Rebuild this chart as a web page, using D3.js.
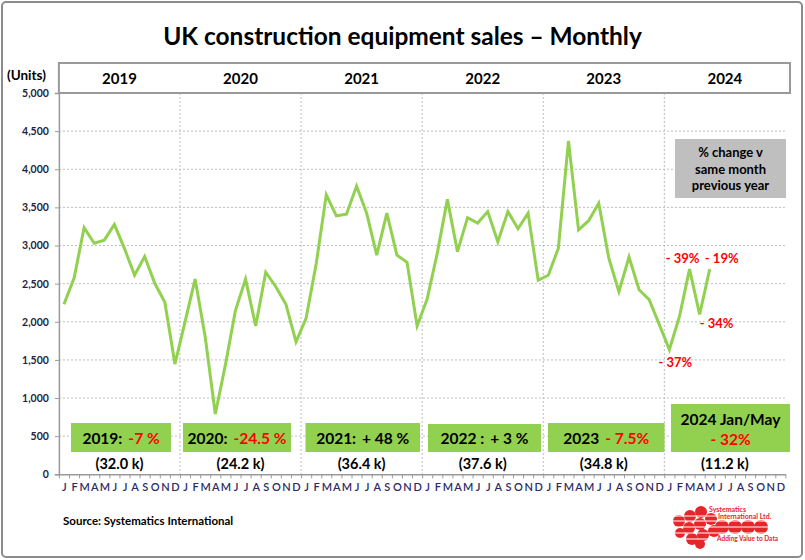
<!DOCTYPE html>
<html><head><meta charset="utf-8">
<script src="https://cdn.jsdelivr.net/npm/d3@7"></script>
<style>
html,body{margin:0;padding:0;background:#fff;}
svg{display:block;font-family:Lato,"Open Sans",sans-serif;}
</style></head>
<body>
<svg id="chart" width="805" height="560"></svg>
<script>
// ---------------- DATA ----------------
const years = ["2019","2020","2021","2022","2023","2024"];
const monthLetters = ["J","F","M","A","M","J","J","A","S","O","N","D"];
const sales2019 = [2230,2570,3235,3030,3070,3275,2960,2610,2855,2505,2255,1445];
const sales2020 = [2000,2560,1800,790,1435,2150,2560,1945,2650,2460,2230,1735];
const sales2021 = [2050,2760,3665,3390,3410,3780,3425,2875,3425,2875,2780,1945];
const sales2022 = [2300,2900,3605,2920,3365,3295,3445,3050,3445,3220,3425,2545];
const sales2023 = [2610,2965,4370,3205,3325,3555,2835,2395,2850,2420,2290,1965];
const sales2024 = [1635,2070,2690,2095,2690];
const yTicks = [0,500,1000,1500,2000,2500,3000,3500,4000,4500,5000];
const yearChangeLabel = ["2019:","2020:","2021:","2022 :","2023","2024 Jan/May"];
const yearChangeValue = ["-7 %","-24.5 %","+ 48 %","+ 3 %","- 7.5%","- 32%"];
const yearChangeRed = [true,true,false,false,true,true];
const yearTotals = ["(32.0 k)","(24.2 k)","(36.4 k)","(37.6 k)","(34.8 k)","(11.2 k)"];
const monthChange2024 = ["- 37%", null, "- 39%", "- 34%", "- 19%"];
const boxNote = ["% change v","same month","previous year"];

// ---------------- LAYOUT ----------------
const svg = d3.select("#chart");
const W = 805, H = 560;
const pL = 58.9, pR = 785.4, pT = 93, pB = 474.3;
const nMonths = years.length * 12;
const x = d3.scaleLinear().domain([0, nMonths]).range([pL, pR]);
const y = d3.scaleLinear().domain([0, 5000]).range([pB, pT]);
const green = "#92d050", red = "#ff0000", gridC = "#bdbdbd";

const allSales = [sales2019,sales2020,sales2021,sales2022,sales2023,sales2024];
const series = [];
allSales.forEach((arr, yi) => arr.forEach((v, mi) => series.push({i: yi*12+mi, v})));

// outer border
svg.append("rect").attr("x",2).attr("y",2).attr("width",W-5).attr("height",H-5)
  .attr("rx",4).attr("fill","#fff").attr("stroke","#8c8c8c").attr("stroke-width",2);

// title
const title = svg.append("text").attr("x",402.5).attr("y",45).attr("text-anchor","middle")
  .attr("font-weight","bold").attr("font-size",22).attr("fill","#000")
  .text("UK construction equipment sales \u2013 Monthly");
(function fit(){ const w = title.node().getComputedTextLength(); title.attr("font-size", 22*479/w); })();

// horizontal grid
svg.append("g").selectAll("line").data(yTicks.filter(t => t>0 && t<5000)).join("line")
  .attr("x1",pL).attr("x2",pR).attr("y1",d=>y(d)).attr("y2",d=>y(d))
  .attr("stroke",gridC).attr("stroke-width",1).attr("stroke-dasharray","2,2");
// vertical year grid
svg.append("g").selectAll("line").data(d3.range(1, years.length)).join("line")
  .attr("x1",d=>x(d*12)).attr("x2",d=>x(d*12)).attr("y1",pT).attr("y2",pB)
  .attr("stroke",gridC).attr("stroke-width",1).attr("stroke-dasharray","2,2");

// header box with years
svg.append("rect").attr("x",pL).attr("y",63).attr("width",790-pL).attr("height",pT-63)
  .attr("fill","#fff").attr("stroke","#9a9a9a").attr("stroke-width",2);
svg.append("g").selectAll("text").data(years).join("text")
  .attr("x",(d,i)=>x(i*12+6)).attr("y",84).attr("text-anchor","middle")
  .attr("font-weight","bold").attr("font-size",15).attr("fill","#000").text(d=>d);

// units label
svg.append("text").attr("x",7).attr("y",80).attr("font-weight","bold").attr("font-size",13.5)
  .attr("fill","#000").text("(Units)");

// y axis
const yAxis = svg.append("g").attr("transform",`translate(${pL},0)`)
  .call(d3.axisLeft(y).tickValues(yTicks).tickFormat(d3.format(",")).tickSize(4).tickPadding(6));
yAxis.select(".domain").attr("stroke","#9a9a9a").attr("stroke-width",1.5);
yAxis.selectAll(".tick line").attr("stroke","#9a9a9a");
yAxis.selectAll(".tick text").attr("font-family","Lato,sans-serif").attr("font-weight","bold")
  .attr("font-size",10.5).attr("fill","#1f1f3f");

// x axis (month boundary ticks)
const xAxis = svg.append("g").attr("transform",`translate(0,${pB})`)
  .call(d3.axisBottom(x).tickValues(d3.range(0, nMonths+1)).tickFormat("").tickSize(4).tickSizeOuter(0));
xAxis.select(".domain").attr("stroke","#9a9a9a").attr("stroke-width",1.5);
xAxis.selectAll(".tick line").attr("stroke","#9a9a9a");
// month letters
const xLab = svg.append("g").attr("transform",`translate(0,${pB})`)
  .call(d3.axisBottom(x).tickValues(d3.range(0, nMonths).map(i=>i+0.5))
    .tickFormat(d => monthLetters[Math.floor(d)%12]).tickSize(0).tickPadding(9));
xLab.select(".domain").remove();
xLab.selectAll(".tick text").attr("font-family","Lato,sans-serif").attr("font-size",11)
  .attr("font-weight","600").attr("fill","#2b2b66");

// the line
svg.append("path").datum(series)
  .attr("d", d3.line().x(d=>x(d.i+0.5)).y(d=>y(d.v)))
  .attr("fill","none").attr("stroke",green).attr("stroke-width",3).attr("stroke-linejoin","miter");

// year change boxes
const boxLayout = [
  {x0:71, x1:171, y0:423, y1:452},
  {x0:183, x1:291, y0:423, y1:452},
  {x0:305.5, x1:420, y0:423, y1:452},
  {x0:428, x1:541, y0:424, y1:452},
  {x0:548, x1:664.5, y0:423, y1:452},
  {x0:671, x1:790, y0:404, y1:452}
];
years.forEach((yr, i) => {
  const b = boxLayout[i];
  svg.append("rect").attr("x",b.x0).attr("y",b.y0).attr("width",b.x1-b.x0).attr("height",b.y1-b.y0)
    .attr("fill",green);
  const cx = (b.x0+b.x1)/2;
  if (i < 5) {
    const t = svg.append("text").attr("x",cx).attr("y",443.5).attr("text-anchor","middle")
      .attr("font-weight","bold").attr("font-size",15.5).attr("fill","#000");
    t.append("tspan").text(yearChangeLabel[i]);
    t.append("tspan").attr("dx",6).attr("fill", yearChangeRed[i] ? red : "#000").text(yearChangeValue[i]);
  } else {
    svg.append("text").attr("x",cx).attr("y",424.5).attr("text-anchor","middle")
      .attr("font-weight","bold").attr("font-size",15.5).attr("fill","#000").text(yearChangeLabel[i]);
    svg.append("text").attr("x",cx).attr("y",444.5).attr("text-anchor","middle")
      .attr("font-weight","bold").attr("font-size",15.5).attr("fill",red).text(yearChangeValue[i]);
  }
  svg.append("text").attr("x",x(i*12+6)).attr("y",468.5).attr("text-anchor","middle")
    .attr("font-weight","bold").attr("font-size",14.5).attr("fill","#000").text(yearTotals[i]);
});

// 2024 monthly change annotations
const annotOffset = [ {dx:6, dy:17}, null, {dx:-7, dy:-6}, {dx:17, dy:13}, {dx:12, dy:-6} ];
monthChange2024.forEach((txt, m) => {
  if (!txt) return;
  const o = annotOffset[m];
  svg.append("text").attr("x", x(60+m+0.5)+o.dx).attr("y", y(sales2024[m])+o.dy)
    .attr("text-anchor","middle").attr("font-weight","bold").attr("font-size",13)
    .attr("fill",red).text(txt);
});

// grey note box
svg.append("rect").attr("x",675).attr("y",139).attr("width",111).attr("height",59).attr("fill","#bfbfbf");
svg.append("g").selectAll("text").data(boxNote).join("text")
  .attr("x",730.5).attr("y",(d,i)=>157+i*16.5).attr("text-anchor","middle")
  .attr("font-weight","bold").attr("font-size",13).attr("fill","#000").text(d=>d);

// source
svg.append("text").attr("x",63).attr("y",525).attr("font-weight","bold").attr("font-size",11.5)
  .attr("fill","#000").text("Source: Systematics International");

// logo (decorative)
const logo = svg.append("g");
const logoCircles = [[679,521,6],[690,516,6],[701,512,6],[689,528,6],[700,524,6],[711,519,6],
  [680,533,5],[692,539,6],[703,535,6],[714,531,6],[722,527,7],[735,527,7],[748,527,7],[761,527,7],[700,544,5]];
logo.selectAll("circle").data(logoCircles).join("circle")
  .attr("cx",d=>d[0]).attr("cy",d=>d[1]).attr("r",d=>d[2]).attr("fill","#e8262a");
logo.selectAll("line.s").data([516,521,527,533,539]).join("line")
  .attr("x1",672).attr("x2",770).attr("y1",d=>d).attr("y2",d=>d).attr("stroke","#fff").attr("stroke-width",1);
logo.append("text").attr("x",709).attr("y",512).attr("font-size",7).attr("font-weight","bold")
  .attr("fill","#e8262a").text("Systematics");
logo.append("text").attr("x",718).attr("y",519).attr("font-size",7).attr("font-weight","bold")
  .attr("fill","#e8262a").text("International Ltd.");
logo.append("text").attr("x",717).attr("y",541).attr("font-size",6.5).attr("font-weight","bold")
  .attr("fill","#e8262a").text("Adding Value to Data");
</script>
</body></html>
